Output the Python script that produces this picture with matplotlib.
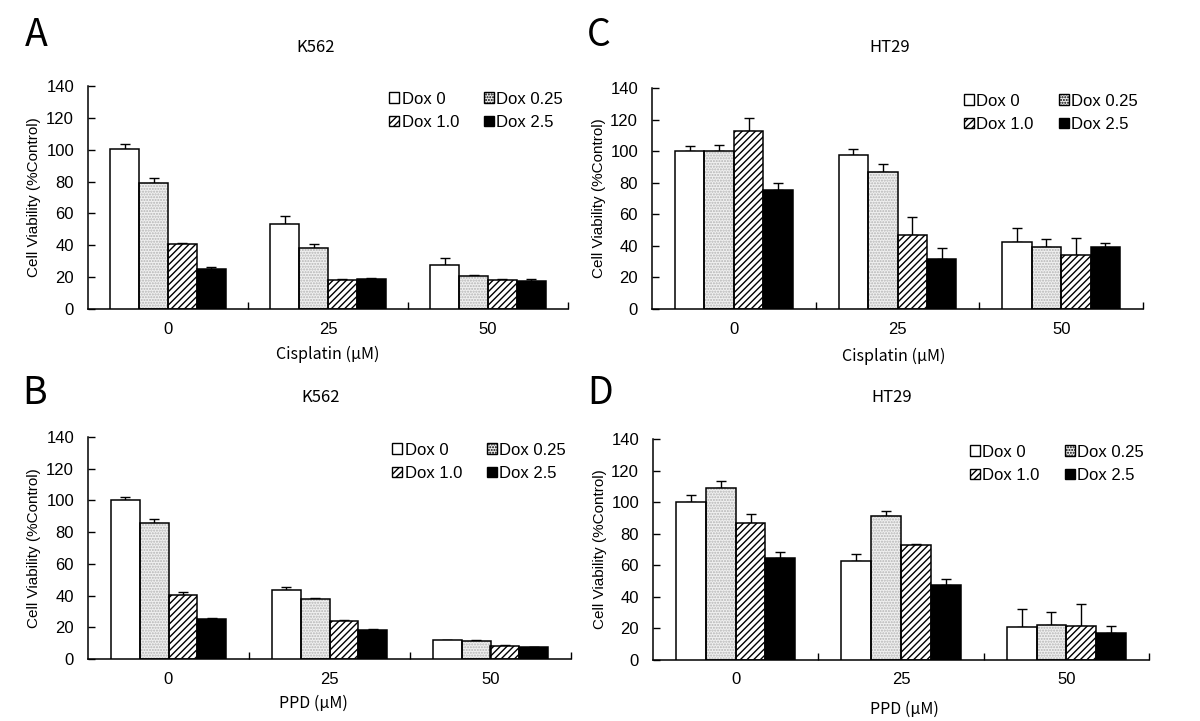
import numpy as np
import matplotlib
matplotlib.use("Agg")
import matplotlib.pyplot as plt
from matplotlib.patches import Patch

# dose groups and treatment series
groups = ["0", "25", "50"]
series = ["Dox 0", "Dox 0.25", "Dox 1.0", "Dox 2.5"]

# A: K562 + cisplatin (rows = series, cols = groups)
a_vals = [[100.5, 53.5, 27.5], [79, 38.5, 21], [41, 18.5, 18], [25, 19, 17.5]]
a_err = [[3.2, 4.8, 4.3], [3, 2, 0.3], [0.5, 0.3, 0.8], [1.5, 0.2, 1.5]]

# B: K562 + PPD
b_vals = [[100.3, 43.5, 11.7], [85.5, 37.8, 11.2], [40.5, 24, 8.5], [25.5, 18.2, 7.6]]
b_err = [[2, 1.6, 0.3], [2.8, 0.6, 0.8], [1.5, 0.7, 0.3], [0.5, 0.5, 0.1]]

# C: HT29 + cisplatin
c_vals = [[100, 97.5, 42.5], [100, 87, 39.5], [112.5, 47, 34.5], [75.5, 31.5, 39]]
c_err = [[3.2, 3.8, 9], [4.2, 4.8, 4.8], [8.8, 11, 10.2], [4.2, 7, 3]]

# D: HT29 + PPD
d_vals = [[100.3, 62.7, 20.9], [108.8, 91.2, 22.4], [87, 72.6, 21.6], [64.5, 47.8, 17]]
d_err = [[4.4, 4.6, 11.2], [4.6, 3.2, 8.2], [5.8, 0.9, 13.7], [4.2, 3.5, 4.3]]

plt.rcParams["font.family"] = ["Liberation Sans", "DejaVu Sans"]
plt.rcParams["hatch.linewidth"] = 1.0
KR = ["Noto Sans CJK KR", "DejaVu Sans"]

W, H = 1200, 721
fig = plt.figure(figsize=(12, 7.21), dpi=100)


def fx(px):
    return px / W


def fy(py):
    return 1 - py / H


def box(l, r, t, b):
    # axes rect from pixel edges
    return [fx(l), fy(b), (r - l) / W, (b - t) / H]


styles = [
    dict(face="white", hatch=None, hcol="black"),
    dict(face="#f0f0f0", hatch="......", hcol="#b4b4b4"),
    dict(face="white", hatch="/////", hcol="black"),
    dict(face="black", hatch=None, hcol="black"),
]


def panel(rect, vals, err, title, xlabel, letter, pos):
    ax = fig.add_axes(rect)
    x = np.arange(len(groups))
    bw = 0.18
    for i, s in enumerate(series):
        xs = x + (i - 1.5) * bw
        st = styles[i]
        if st["hatch"]:
            ax.bar(xs, vals[i], bw, color=st["face"], edgecolor=st["hcol"],
                   hatch=st["hatch"], linewidth=0, zorder=2)
            ax.bar(xs, vals[i], bw, fill=False, edgecolor="black", linewidth=1.1, zorder=3)
        else:
            ax.bar(xs, vals[i], bw, color=st["face"], edgecolor="black", linewidth=1.1, zorder=3)
        ax.errorbar(xs, vals[i], yerr=[np.zeros(len(groups)), err[i]], fmt="none",
                    ecolor="black", elinewidth=1.0, capsize=3.5, capthick=1.0, zorder=1)
    ax.set_xlim(-0.5, 2.5)
    ax.set_ylim(0, 140)
    ax.set_yticks(np.arange(0, 141, 20))
    ax.set_xticks(x)
    ax.set_xticklabels(groups)
    ax.set_xticks([0.5, 1.5, 2.5], minor=True)
    ax.tick_params(axis="x", which="major", length=0, pad=9, labelsize=12)
    ax.tick_params(axis="x", which="minor", direction="in", length=5, width=1)
    ax.tick_params(axis="y", direction="in", length=5, width=1, labelsize=12, pad=10)
    for sp in ["top", "right"]:
        ax.spines[sp].set_visible(False)
    for sp in ["left", "bottom"]:
        ax.spines[sp].set_linewidth(1.1)
    handles = [Patch(facecolor=styles[i]["face"], edgecolor="black",
                     hatch=styles[i]["hatch"], label=s, linewidth=1.0) for i, s in enumerate(series)]
    # legend fills by column, so reorder to read row by row
    order = [0, 2, 1, 3]
    ax.legend([handles[k] for k in order], [series[k] for k in order], ncol=2,
              frameon=False, fontsize=12,
              loc="upper right", bbox_to_anchor=(0.99, 0.975),
              borderaxespad=0, borderpad=0,
              handlelength=0.6, handleheight=0.6, handletextpad=0.15,
              columnspacing=1.5, labelspacing=0.5)
    lx, ly, tx, ty, xlx, xly, ylx = pos
    fig.text(fx(lx), fy(ly), letter, family=KR, fontsize=27, fontweight="light",
             ha="center", va="center")
    fig.text(fx(tx), fy(ty), title, family=KR, fontsize=12, ha="center", va="center")
    fig.text(fx(xlx), fy(xly), xlabel, family=KR, fontsize=11.5, ha="center", va="center")
    ymid = rect[1] + rect[3] / 2
    fig.text(fx(ylx), ymid, "Cell Viability (%Control)", fontsize=11,
             rotation=90, ha="center", va="center")
    return ax


panel(box(88, 568, 86, 309), a_vals, a_err, "K562",
      "Cisplatin (\u03bcM)", "A", (36, 35, 316, 48, 328, 354, 34))
panel(box(652, 1143, 88, 309), c_vals, c_err, "HT29",
      "Cisplatin (\u03bcM)", "C", (599, 36, 890, 48, 894, 356, 599))
panel(box(88, 571, 437, 659), b_vals, b_err, "K562",
      "PPD (\u03bcM)", "B", (35, 394, 321, 397, 313, 703, 34))
panel(box(653, 1149, 439, 660), d_vals, d_err, "HT29",
      "PPD (\u03bcM)", "D", (600, 393, 892, 398, 904, 709, 600))

fig.savefig("out.png", dpi=100, facecolor="white")
